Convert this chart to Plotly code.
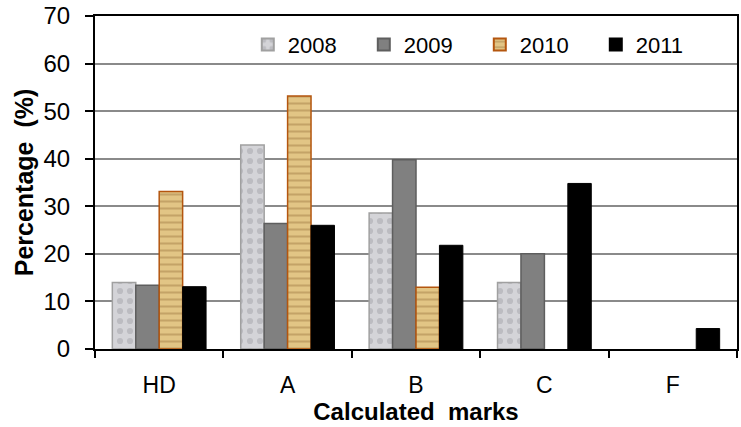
import plotly.graph_objects as go

categories = ["HD", "A", "B", "C", "F"]
years = ["2008", "2009", "2010", "2011"]
v2008 = [14.0, 42.9, 28.6, 14.0, 0]
v2009 = [13.4, 26.4, 39.8, 20.0, 0]
v2010 = [33.1, 53.2, 13.0, 0, 0]
v2011 = [13.1, 26.0, 21.8, 34.8, 4.3]
yticks = [0, 10, 20, 30, 40, 50, 60, 70]

styles = {
    "2008": dict(color="#cfcfd3", line=dict(color="#a0a0a0", width=1.5),
                 pattern=dict(shape=".", fgcolor="#a4a4aa", bgcolor="#d4d4d8", size=10, solidity=0.3)),
    "2009": dict(color="#808080", line=dict(color="#5e5e5e", width=1.5)),
    "2010": dict(color="#dcbd7c", line=dict(color="#b4560f", width=1.5),
                 pattern=dict(shape="-", fgcolor="#a5824a", bgcolor="#e2c585", size=7, solidity=0.3)),
    "2011": dict(color="#000000", line=dict(color="#000000", width=1)),
}

fig = go.Figure()
for name, vals in zip(years, [v2008, v2009, v2010, v2011]):
    fig.add_trace(go.Bar(x=categories, y=[v if v else None for v in vals],
                         name=name, marker=styles[name]))

font = "Liberation Sans, Arial, sans-serif"
fig.update_layout(
    width=741, height=427,
    margin=dict(l=95, r=4, t=16, b=78, autoexpand=False),
    paper_bgcolor="white", plot_bgcolor="white",
    barmode="group", bargap=0.27, bargroupgap=0,
    font=dict(family=font, size=22, color="black"),
    showlegend=True,
    legend=dict(orientation="h", x=0.238, y=0.914, xanchor="left", yanchor="middle",
                bgcolor="rgba(0,0,0,0)", font=dict(size=22), entrywidth=71,
                itemsizing="constant"),
    xaxis=dict(
        showline=True, linecolor="black", linewidth=2, mirror=True,
        ticks="outside", tickson="boundaries", ticklen=7, tickcolor="black", tickwidth=2,
        ticklabelstandoff=14,
        tickfont=dict(size=23), automargin=False,
        title=dict(text="<b>Calculated  marks</b>", font=dict(size=24), standoff=3),
        showgrid=False,
    ),
    yaxis=dict(
        range=[0, 70], tickvals=yticks, ticktext=[str(t) for t in yticks],
        showline=True, linecolor="black", linewidth=2, mirror=True,
        ticks="outside", ticklen=8, tickcolor="black", tickwidth=2,
        ticklabelstandoff=10, automargin=False,
        tickfont=dict(size=24),
        showgrid=True, gridcolor="#8a8a8a", gridwidth=2,
        zeroline=False,
        title=dict(text="<b>Percentage  (%)</b>", font=dict(size=25), standoff=3),
    ),
)

fig.write_html("out.html", config={"displayModeBar": False},
               post_script="document.body.style.margin='0';document.body.style.overflow='hidden';")
